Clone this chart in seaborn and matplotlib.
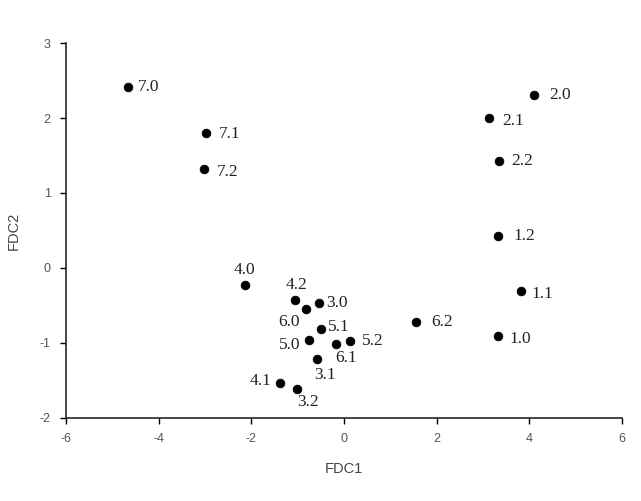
import matplotlib
matplotlib.use("Agg")
import matplotlib.pyplot as plt
import pandas as pd
import seaborn as sns

# sample labels and discriminant scores
labels = ['7.0', '7.1', '7.2', '2.0', '2.1', '2.2', '1.2', '1.1', '1.0',
          '4.0', '4.2', '6.0', '3.0', '5.1', '5.0', '6.1', '5.2', '3.1',
          '4.1', '3.2', '6.2']
fdc1 = [-4.66, -2.98, -3.02, 4.10, 3.13, 3.35, 3.33, 3.82, 3.33,
        -2.14, -1.06, -0.82, -0.54, -0.50, -0.76, -0.17, 0.14, -0.58,
        -1.38, -1.02, 1.55]
fdc2 = [2.41, 1.80, 1.32, 2.31, 2.00, 1.43, 0.43, -0.31, -0.91,
        -0.23, -0.43, -0.55, -0.47, -0.81, -0.96, -1.02, -0.97, -1.21,
        -1.53, -1.61, -0.72]
x_ticks = [-6, -4, -2, 0, 2, 4, 6]
y_ticks = [-2, -1, 0, 1, 2, 3]

df = pd.DataFrame({'lab': labels, 'FDC1': fdc1, 'FDC2': fdc2})

# where each label sits relative to its point (points), and alignment
offsets = {
    '7.0': (7, 0, 'left'), '7.1': (9, -1, 'left'), '7.2': (9, -2, 'left'),
    '2.0': (11, 0, 'left'), '2.1': (10, -2, 'left'), '2.2': (9, 0, 'left'),
    '1.2': (11, 0, 'left'), '1.1': (8, -2, 'left'), '1.0': (8, -2, 'left'),
    '4.0': (0, 11, 'center'), '4.2': (1, 11, 'center'), '6.0': (-12, -9, 'center'),
    '3.0': (5, 0, 'left'), '5.1': (5, 1, 'left'), '5.0': (-6, -4, 'right'),
    '6.1': (7, -10, 'center'), '5.2': (8, 0, 'left'), '3.1': (6, -12, 'center'),
    '4.1': (-6, 1, 'right'), '3.2': (8, -10, 'center'), '6.2': (11, 0, 'left'),
}

sns.set_style("ticks")
plt.rcParams['font.family'] = ['Liberation Sans', 'DejaVu Sans']
plt.rcParams['axes.unicode_minus'] = False

fig = plt.figure(figsize=(6.41, 5.01), dpi=100)
ax = fig.add_axes([0.103, 0.166, 0.867, 0.748])

sns.scatterplot(data=df, x='FDC1', y='FDC2', color='black', s=40,
                edgecolor='black', linewidth=0.5, ax=ax, zorder=3)

for lab, x, y in zip(labels, fdc1, fdc2):
    dx, dy, ha = offsets[lab]
    ax.annotate(lab, (x, y), xytext=(dx, dy), textcoords='offset points',
                ha=ha, va='center', fontsize=12.5, family='Liberation Serif',
                color='#222222')

ax.set_xlim(-6, 6)
ax.set_ylim(-2, 3)
ax.set_xticks(x_ticks)
ax.set_yticks(y_ticks)
ax.set_xticklabels([str(t) for t in x_ticks])
ax.set_yticklabels([str(t) for t in y_ticks])
ax.tick_params(axis='both', labelsize=9, colors='black', labelcolor='#555555',
               length=4, width=1)
ax.tick_params(axis='x', pad=7)
ax.tick_params(axis='y', pad=7)
ax.set_xlabel('FDC1', fontsize=10.5, color='#444444', labelpad=12)
ax.set_ylabel('FDC2', fontsize=10.5, color='#444444', labelpad=14)
sns.despine(ax=ax)
for sp in ax.spines.values():
    sp.set_linewidth(1.2)

fig.savefig('out.png', dpi=100, facecolor='white')
